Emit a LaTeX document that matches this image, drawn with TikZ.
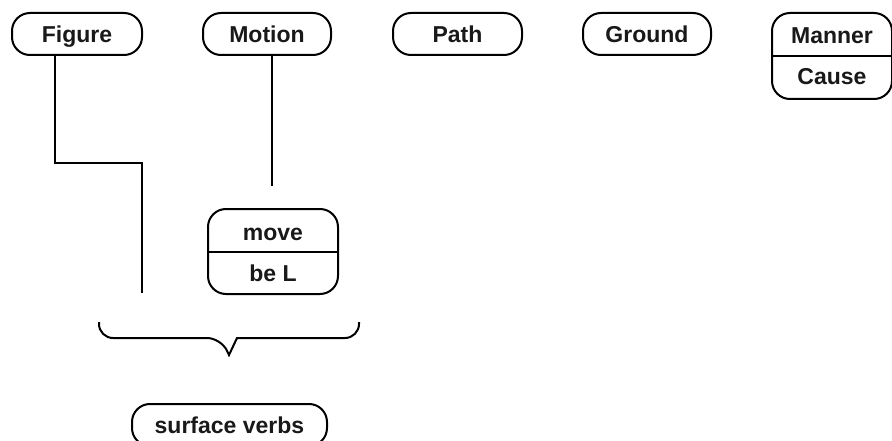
\documentclass[tikz,border=0pt]{standalone}
\usepackage{fontspec}
\setmainfont{Liberation Sans}
\begin{document}
\begin{tikzpicture}[x=1pt,y=-1pt,
  lab/.style={draw=black, line width=2pt, rounded corners=18pt, minimum height=42pt,
    inner sep=0pt, font={\fontsize{23}{27}\selectfont\bfseries}, text=black!90,
    text height=16.5pt, text depth=0pt},
  txt/.style={inner sep=0pt, font={\fontsize{23}{27}\selectfont\bfseries}, text=black!90,
    text height=16.5pt, text depth=0pt},
  conn/.style={line width=2pt, line join=miter}]
\clip (0,0) rectangle (892,441);
\fill[white] (0,0) rectangle (892,441);
% top row
\node[lab, minimum width=130pt] (figure) at (77,34) {Figure};
\node[lab, minimum width=128pt] (motion) at (267,34) {Motion};
\node[lab, minimum width=129pt] (path) at (457.5,34) {Path};
\node[lab, minimum width=128pt] (ground) at (647,34) {Ground};
\node[lab, minimum width=120pt, minimum height=86pt] (manner) at (832,56) {};
\draw[conn] (manner.west) -- (manner.east);
\node[txt] (mannertxt) at (832,35) {Manner};
\node[txt] (causetxt) at (832,76) {Cause};
% move / be L
\node[lab, minimum width=130pt, minimum height=85pt] (move) at (273,251.5) {};
\draw[conn] (move.west) -- (move.east);
\node[txt] (movetxt) at (273,232) {move};
\node[txt] (beltxt) at (273,273) {be L};
% surface verbs
\node[lab, minimum width=195pt] (surface) at (229.5,425) {surface verbs};
% connectors
\coordinate (figend) at (142,293);
\coordinate (motend) at (272,186);
\draw[conn] (figure.south west -| 55,0) -- (55,163) -- (142,163) -- (figend);
\draw[conn] (motion.south -| motend) -- (motend);
% brace
\coordinate (bl) at (99,322);
\coordinate (br) at (359,322);
\coordinate (tip) at (229,355);
\draw[conn] (bl) [rounded corners=14pt] -- (99,338) -- (221,338) [sharp corners] -- (tip)
  -- (237,338) [rounded corners=14pt] -- (359,338) -- (br);
\end{tikzpicture}
\end{document}
